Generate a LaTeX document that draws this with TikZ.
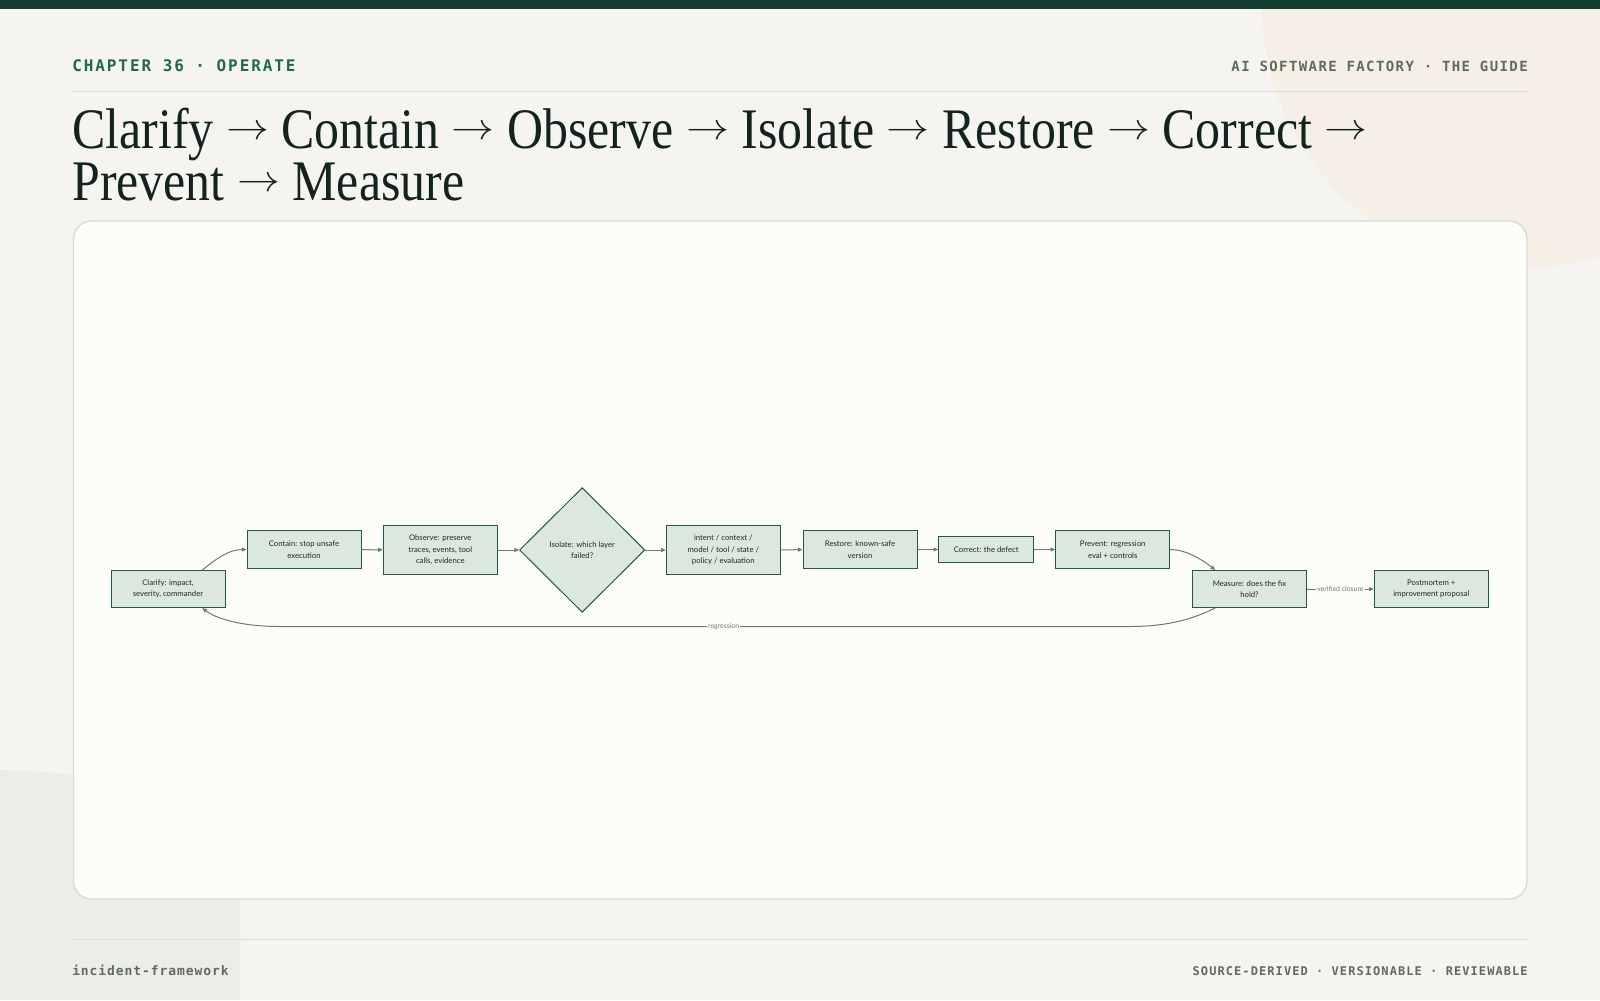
\documentclass[tikz,border=0pt]{standalone}
\usepackage{fontspec}
\setmainfont{Liberation Serif}
\setsansfont{Lato}
\newfontfamily\titlefont[FakeStretch=0.87]{Liberation Serif}
\newfontfamily\chapmono[LetterSpace=12]{DejaVu Sans Mono}
\newfontfamily\hdrmono[LetterSpace=10]{DejaVu Sans Mono}
\newfontfamily\ftrmono[LetterSpace=7]{DejaVu Sans Mono}
\newfontfamily\tagmono[LetterSpace=9]{DejaVu Sans Mono}
\usetikzlibrary{shapes.geometric,arrows.meta}

% scalable math symbols, so the title arrow follows the title size
\DeclareFontShape{OMS}{cmsy}{m}{n}{<->cmsy10}{}
\newcommand{\titlearrow}{\raisebox{0.14em}{\scalebox{0.75}[0.65]{$\rightarrow$}}}

\definecolor{pagebg}{HTML}{F5F4F0}
\definecolor{blobcream}{HTML}{F5EFE5}
\definecolor{blobgrey}{HTML}{ECEDE8}
\definecolor{topbar}{HTML}{143D31}
\definecolor{chaptergreen}{HTML}{1F6A4C}
\definecolor{metagrey}{HTML}{5E6B64}
\definecolor{rulegrey}{HTML}{DADBD6}
\definecolor{cardfill}{HTML}{FDFDF8}
\definecolor{cardline}{HTML}{D8DCD8}
\definecolor{titleink}{HTML}{13241D}
\definecolor{boxfill}{HTML}{DCE7DF}
\definecolor{boxline}{HTML}{1F5C46}
\definecolor{edgegrey}{HTML}{6E7A73}
\definecolor{nodeink}{HTML}{1C2A24}

\tikzset{
  stepbox/.style={draw=boxline, fill=boxfill, line width=0.75pt, align=center,
    inner sep=1pt, text=nodeink, font=\sffamily\fontsize{5.8}{8.6}\selectfont,
    minimum width=85.5pt},
  decision/.style={stepbox, diamond, minimum width=94pt, minimum height=93.5pt},
  flow/.style={draw=edgegrey, line width=0.75pt, -{Triangle[length=3.5pt,width=3pt]}},
  edgelabel/.style={fill=cardfill, text=edgegrey, inner sep=0.8pt,
    font=\sffamily\fontsize{5.2}{6}\selectfont},
}

\begin{document}
\begin{tikzpicture}[x=0.75pt,y=0.75pt,yscale=-1,xscale=1]
\useasboundingbox (0,0) rectangle (1600,1000);

%page background and blobs
\fill[pagebg] (0,0) rectangle (1600,1000);
\fill[blobcream] (1522,8) circle (260);
\fill[blobgrey] (0,770) .. controls (110,772) and (240,800) .. (240,880) -- (240,1000) -- (0,1000) -- cycle;
\fill[topbar] (0,0) rectangle (1600,9);

%header
\node[anchor=base west, inner sep=0, text=chaptergreen, font=\chapmono\bfseries\fontsize{12}{14}\selectfont] (chapter) at (72,71) {CHAPTER 36 · OPERATE};
\node[anchor=base east, inner sep=0, text=metagrey, font=\hdrmono\bfseries\fontsize{10.5}{12}\selectfont] (guide) at (1528,71) {AI SOFTWARE FACTORY · THE GUIDE};
\draw[rulegrey, line width=0.75pt] (72,91) -- (1528,91);

%title
\node[anchor=base west, inner sep=0, text=titleink, font=\titlefont\fontsize{43}{43}\selectfont] (titleA) at (72,148) {Clarify \titlearrow{} Contain \titlearrow{} Observe \titlearrow{} Isolate \titlearrow{} Restore \titlearrow{} Correct \titlearrow};
\node[anchor=base west, inner sep=0, text=titleink, font=\titlefont\fontsize{43}{43}\selectfont] (titleB) at (72,200) {Prevent \titlearrow{} Measure};

%card
\draw[fill=cardfill, draw=cardline, line width=1.1pt, rounded corners=13.5pt] (73.5,221) rectangle (1527,899);

%steps
\node[stepbox, minimum height=27.75pt] (clarify) at (168,589) {Clarify: impact,\\severity, commander};
\node[stepbox, minimum height=28.5pt] (contain) at (304,549.5) {Contain: stop unsafe\\execution};
\node[stepbox, minimum height=36.75pt] (observe) at (440.3,550) {Observe: preserve\\traces, events, tool\\calls, evidence};
\node[decision] (isolate) at (582.2,550) {Isolate: which layer\\failed?};
\node[stepbox, minimum height=36.75pt] (layers) at (723.3,550) {intent / context /\\model / tool / state /\\policy / evaluation};
\node[stepbox, minimum height=28.5pt] (restore) at (860,549.5) {Restore: known-safe\\version};
\node[stepbox, minimum height=19.2pt, minimum width=71.25pt] (correct) at (986.2,549.5) {Correct: the defect};
\node[stepbox, minimum height=28.5pt] (prevent) at (1112.7,549.5) {Prevent: regression\\eval + controls};
\node[stepbox, minimum height=27.75pt] (measure) at (1249.5,589) {Measure: does the fix\\hold?};
\node[stepbox, minimum height=27.75pt] (postmortem) at (1431.3,589) {Postmortem +\\improvement proposal};

%connectors
\draw[flow] (clarify.29) .. controls (215,560) and (228,549.5) .. (contain.west);
\draw[flow] (contain) -- (observe);
\draw[flow] (observe) -- (isolate);
\draw[flow] (isolate) -- (layers);
\draw[flow] (layers) -- (restore);
\draw[flow] (restore) -- (correct);
\draw[flow] (correct) -- (prevent);
\draw[flow] (prevent.east) .. controls (1185,549.5) and (1200,558) .. (measure.151);
\draw[flow] (measure) -- node[edgelabel] {verified closure} (postmortem);
\draw[flow] (measure.209) .. controls (1195,618) and (1170,626.5) .. (1130,626.5)
  -- node[edgelabel, pos=0.478] {regression} (280,626.5)
  .. controls (240,626.5) and (215,618) .. (clarify.331);

%footer
\draw[rulegrey, line width=0.75pt] (72,939) -- (1528,939);
\node[anchor=base west, inner sep=0, text=metagrey, font=\ftrmono\bfseries\fontsize{9.75}{12}\selectfont] (slug) at (72,975) {incident-framework};
\node[anchor=base east, inner sep=0, text=metagrey, font=\tagmono\bfseries\fontsize{9}{12}\selectfont] (tagline) at (1528,975) {SOURCE-DERIVED · VERSIONABLE · REVIEWABLE};
\end{tikzpicture}
\end{document}
